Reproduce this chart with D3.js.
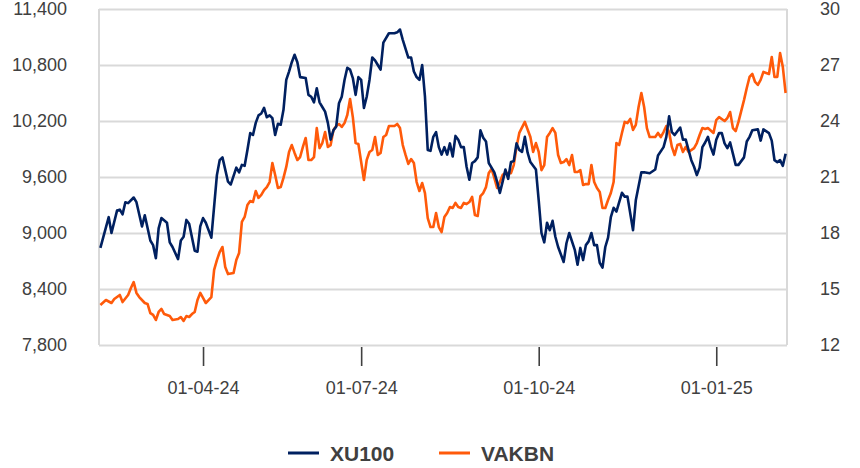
<!DOCTYPE html>
<html>
<head>
<meta charset="utf-8">
<script src="https://cdn.jsdelivr.net/npm/d3@7"></script>
<style>
  body { margin: 0; background: #fff; }
  svg { display: block; font-family: "Liberation Sans", Arial, sans-serif; }
  .grid line { stroke: #d9d9d9; stroke-width: 2; }
  .grid path { display: none; }
  .axis text { fill: #404040; font-size: 18px; }
  .axis path { display: none; }
  .axis.x line { stroke: #404040; stroke-width: 1.6; }
  .legend text { fill: #404040; font-size: 21px; font-weight: bold; }
</style>
</head>
<body>
<div id="chart"></div>
<script>
// trading-day index (0 = first day shown), closing value
var xu100 = [[0,8840],[3,9170],[4,9000],[6,9240],[7,9250],[8,9200],[9,9330],[10,9320],[12,9380],[13,9330],[15,9070],[16,9190],[18,8920],[19,8870],[20,8730],[21,9050],[22,9160],[24,9110],[25,8900],[26,8850],[28,8720],[29,8920],[30,8960],[31,9140],[32,9100],[34,8810],[35,8800],[36,9070],[37,9160],[38,9110],[40,8950],[42,9620],[43,9780],[44,9810],[46,9550],[47,9520],[49,9700],[50,9650],[51,9730],[52,9720],[53,9890],[54,10070],[55,10050],[56,10180],[57,10260],[58,10280],[59,10340],[60,10240],[61,10260],[62,10230],[63,10050],[64,10170],[65,10160],[66,10320],[67,10640],[68,10730],[69,10830],[70,10910],[71,10830],[72,10670],[74,10660],[75,10480],[76,10460],[77,10400],[78,10550],[79,10400],[80,10350],[81,10300],[82,10180],[83,10000],[84,10100],[85,10140],[86,10390],[87,10460],[88,10640],[89,10770],[90,10750],[91,10660],[92,10480],[93,10670],[94,10640],[95,10340],[96,10460],[97,10640],[98,10880],[99,10850],[100,10800],[101,10750],[102,11040],[104,11140],[106,11140],[107,11150],[108,11180],[109,11070],[111,10880],[112,10880],[113,10730],[114,10670],[115,10640],[116,10800],[117,10460],[118,9890],[119,9880],[120,10030],[121,10080],[122,9920],[123,9840],[124,9920],[125,9840],[126,9960],[127,9820],[128,10040],[129,10000],[130,9920],[131,9920],[132,9710],[133,9570],[134,9750],[135,9770],[136,9810],[137,10100],[138,10020],[139,9980],[140,9750],[142,9650],[143,9550],[144,9430],[145,9550],[146,9680],[147,9580],[148,9760],[149,9770],[150,9960],[151,9890],[152,9870],[153,10030],[154,9860],[155,9760],[157,9680],[158,9350],[159,9000],[160,8900],[161,9110],[162,9030],[163,9130],[164,8960],[165,8850],[167,8690],[168,8890],[169,9000],[171,8820],[172,8660],[173,8840],[174,8710],[175,8870],[176,8910],[177,9000],[178,8870],[179,8870],[180,8680],[181,8630],[182,8850],[183,8950],[184,9170],[185,9270],[186,9230],[188,9430],[189,9390],[190,9390],[192,9030],[193,9350],[195,9650],[196,9650],[198,9640],[200,9680],[201,9830],[203,9920],[204,10030],[205,10250],[206,10080],[207,10050],[209,10130],[210,10000],[211,10000],[213,9780],[214,9710],[215,9620],[216,9700],[217,9920],[218,9970],[219,10030],[220,9920],[221,9840],[222,10000],[223,10070],[224,10070],[225,9960],[226,9910],[227,9970],[228,9850],[229,9730],[230,9730],[232,9810],[233,9980],[234,10030],[235,10100],[237,10110],[238,9990],[239,10110],[241,10070],[242,9990],[243,9780],[244,9760],[245,9780],[246,9720],[247,9850]];

var vakbn = [[0,14.14],[2,14.41],[4,14.25],[5,14.46],[7,14.68],[8,14.30],[10,14.68],[11,15.05],[12,15.37],[13,14.79],[14,14.57],[16,14.25],[17,14.20],[18,13.71],[19,13.61],[20,13.34],[21,13.77],[22,13.93],[23,13.66],[25,13.55],[26,13.34],[28,13.39],[29,13.50],[30,13.29],[31,13.55],[32,13.50],[33,13.66],[34,13.77],[35,14.41],[36,14.79],[37,14.52],[38,14.25],[39,14.41],[40,14.57],[41,16.02],[42,16.55],[43,16.98],[44,17.25],[45,16.18],[46,15.80],[48,15.86],[49,16.55],[50,16.93],[51,18.59],[52,18.86],[53,19.50],[54,19.71],[55,19.66],[56,20.25],[57,19.88],[58,20.04],[59,20.30],[60,20.46],[61,20.73],[62,21.75],[63,21.11],[64,20.41],[65,20.46],[66,20.95],[67,21.54],[68,22.34],[69,22.71],[70,22.29],[71,21.91],[72,22.07],[73,22.61],[74,23.09],[75,21.91],[76,21.91],[77,22.07],[78,23.62],[79,22.55],[80,22.82],[81,23.41],[82,22.61],[83,22.71],[84,23.52],[85,23.73],[86,23.84],[87,23.68],[88,23.89],[89,24.32],[90,25.18],[91,24.21],[92,22.82],[93,22.77],[94,21.80],[95,20.84],[96,21.91],[97,22.34],[98,22.45],[99,23.14],[100,22.18],[101,22.29],[102,23.14],[103,23.25],[104,23.73],[106,23.73],[107,23.84],[108,23.62],[109,22.71],[110,22.18],[111,21.70],[112,21.96],[113,21.75],[114,20.73],[115,20.25],[116,20.68],[117,20.14],[118,18.80],[119,18.32],[120,18.32],[121,19.07],[122,18.32],[123,18.05],[124,18.86],[125,19.07],[126,19.39],[127,19.34],[128,19.61],[129,19.39],[130,19.34],[131,19.61],[132,19.55],[133,19.66],[134,19.93],[135,18.96],[136,18.91],[137,19.98],[138,20.14],[139,20.46],[140,21.21],[141,21.43],[142,20.95],[143,20.41],[144,20.73],[145,21.11],[146,21.21],[148,21.21],[149,21.64],[150,22.61],[151,23.36],[153,23.95],[155,23.14],[156,22.34],[157,22.82],[158,22.34],[159,21.37],[160,21.64],[161,23.14],[162,23.36],[163,23.62],[164,23.36],[165,22.18],[166,21.75],[167,21.80],[168,21.96],[169,21.64],[170,22.18],[171,21.27],[172,21.27],[173,21.37],[174,20.57],[175,20.62],[176,20.62],[177,21.64],[178,20.73],[179,20.41],[180,20.20],[181,19.34],[182,19.34],[183,19.77],[184,20.14],[185,20.73],[186,22.82],[187,22.71],[188,23.36],[189,23.95],[190,23.89],[191,24.11],[192,23.52],[193,23.79],[194,24.75],[195,25.50],[196,24.75],[197,23.62],[198,23.14],[199,23.14],[200,23.14],[201,23.36],[202,23.14],[203,23.41],[204,23.73],[205,23.41],[206,22.61],[207,22.18],[208,22.71],[209,22.77],[210,22.34],[211,22.61],[212,22.34],[214,22.55],[215,22.82],[216,23.25],[217,23.62],[218,23.57],[219,23.62],[221,23.36],[222,24.05],[223,24.21],[225,24.00],[226,24.16],[227,24.48],[228,23.62],[229,23.46],[230,23.95],[232,25.12],[233,25.77],[234,26.36],[235,26.52],[236,26.09],[237,25.93],[238,26.20],[239,26.63],[241,26.52],[242,27.43],[243,26.36],[244,26.36],[245,27.64],[246,26.89],[247,25.50]];

var totalDays = 248;
var tickDays = [37.5, 94.5, 158.5, 222.5];
var tickLabels = ['01-04-24', '01-07-24', '01-10-24', '01-01-25'];
var leftTicks = [7800, 8400, 9000, 9600, 10200, 10800, 11400];
var rightTicks = [12, 15, 18, 21, 24, 27, 30];
var seriesNames = ['XU100', 'VAKBN'];
var seriesColors = ['#002060', '#ff5a0a'];

var W = 860, H = 468;
var margin = {top: 9, right: 73, bottom: 123, left: 99};
var w = W - margin.left - margin.right,
    h = H - margin.top - margin.bottom;

var svg = d3.select('#chart').append('svg')
    .attr('width', W)
    .attr('height', H);

var g = svg.append('g')
    .attr('transform', translation(margin.left, margin.top));

var x = d3.scaleLinear().domain([0, totalDays]).range([0, w]);
var yLeft = d3.scaleLinear().domain([7800, 11400]).range([h, 0]);
var yRight = d3.scaleLinear().domain([12, 30]).range([h, 0]);

// horizontal gridlines
g.append('g')
    .attr('class', 'grid')
    .call(d3.axisLeft(yLeft).tickValues(leftTicks).tickSize(-w).tickFormat(''));

// frame sides
g.append('line').attr('x1', 0).attr('x2', 0).attr('y1', 0).attr('y2', h)
    .attr('stroke', '#d9d9d9').attr('stroke-width', 2);
g.append('line').attr('x1', w).attr('x2', w).attr('y1', 0).attr('y2', h)
    .attr('stroke', '#d9d9d9').attr('stroke-width', 2);

// axes
g.append('g')
    .attr('class', 'axis y left')
    .attr('transform', translation(-29, 0))
    .call(d3.axisLeft(yLeft).tickValues(leftTicks).tickSize(0).tickFormat(d3.format(',')));

g.append('g')
    .attr('class', 'axis y right')
    .attr('transform', translation(w + 30, 0))
    .call(d3.axisRight(yRight).tickValues(rightTicks).tickSize(0));

g.append('g')
    .attr('class', 'axis x')
    .attr('transform', translation(0, h + 2))
    .call(d3.axisBottom(x).tickValues(tickDays).tickSize(19).tickPadding(15)
        .tickFormat(function(d, i) { return tickLabels[i]; }));

// lines
var lineLeft = d3.line()
    .x(function(d) { return x(d[0] + 0.5); })
    .y(function(d) { return yLeft(d[1]); });
var lineRight = d3.line()
    .x(function(d) { return x(d[0] + 0.5); })
    .y(function(d) { return yRight(d[1]); });

g.append('path')
    .datum(vakbn)
    .attr('fill', 'none')
    .attr('stroke', seriesColors[1])
    .attr('stroke-width', 2.6)
    .attr('stroke-linejoin', 'round')
    .attr('d', lineRight);

g.append('path')
    .datum(xu100)
    .attr('fill', 'none')
    .attr('stroke', seriesColors[0])
    .attr('stroke-width', 2.6)
    .attr('stroke-linejoin', 'round')
    .attr('d', lineLeft);

// legend
var legend = svg.append('g').attr('class', 'legend');
var legendX = [288, 439];
seriesNames.forEach(function(name, i) {
    legend.append('line')
        .attr('x1', legendX[i]).attr('x2', legendX[i] + 31)
        .attr('y1', 453).attr('y2', 453)
        .attr('stroke', seriesColors[i])
        .attr('stroke-width', 3);
    legend.append('text')
        .attr('x', legendX[i] + 42)
        .attr('y', 453)
        .attr('dy', '0.36em')
        .text(name);
});

function translation(a, b) {
    return 'translate(' + a + ',' + b + ')';
}
</script>
</body>
</html>
